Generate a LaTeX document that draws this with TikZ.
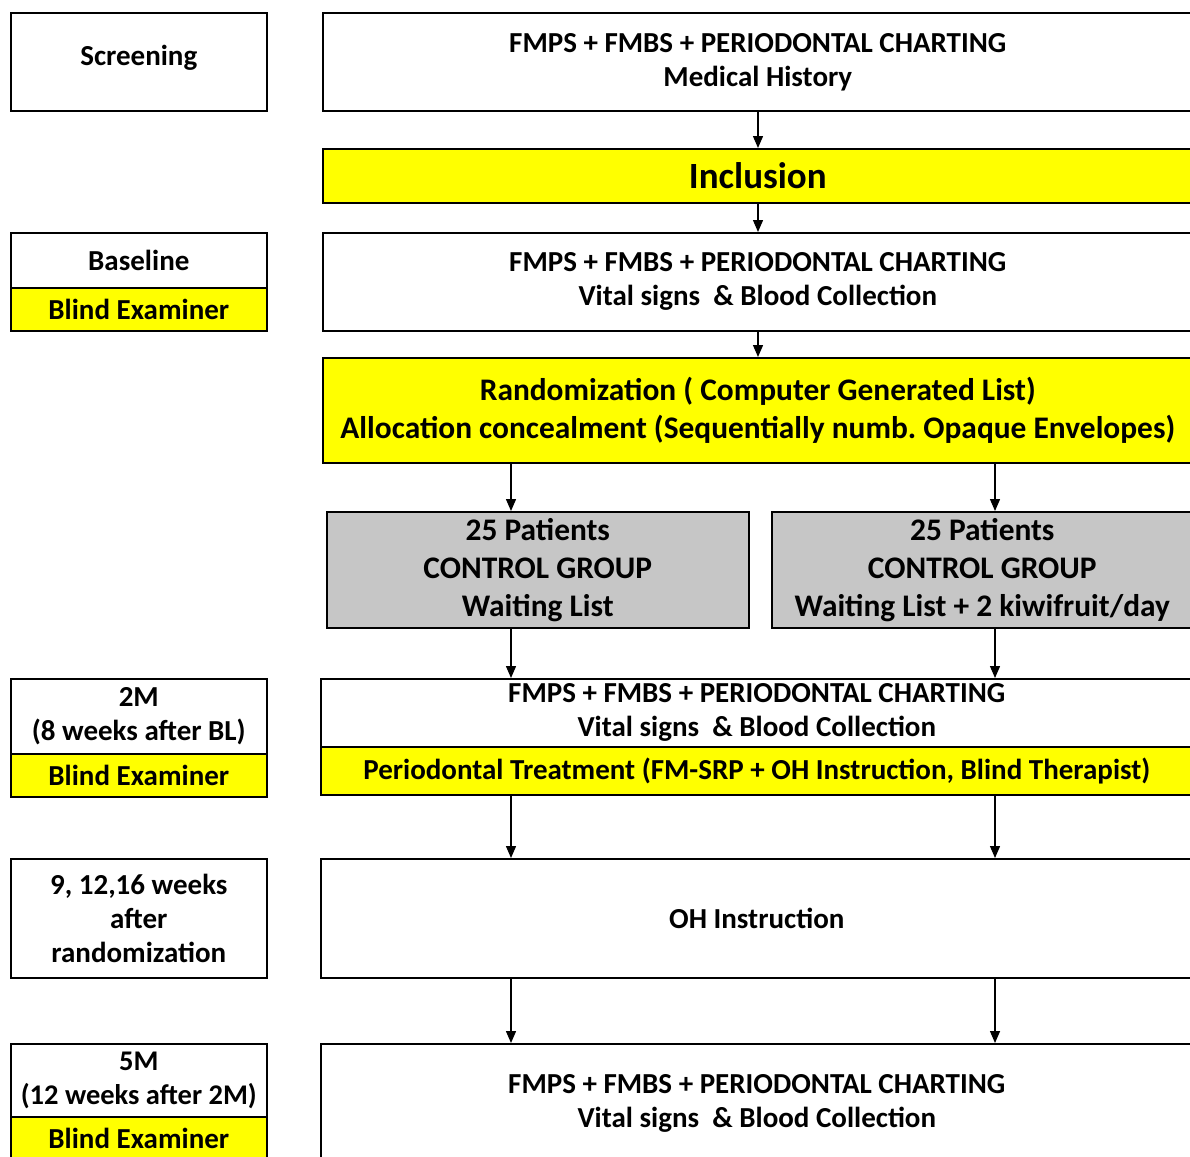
\documentclass[tikz,border=0pt]{standalone}
\usepackage{fontspec}
\setmainfont{Carlito}
\usetikzlibrary{arrows.meta}
\definecolor{grayfill}{RGB}{198,198,198}
\definecolor{ylw}{RGB}{255,255,0}
\frenchspacing
\begin{document}
\begin{tikzpicture}[x=1pt,y=-1pt,
  box/.style={draw=black, line width=1.6pt, anchor=north west, inner sep=0pt, align=center,
    font=\fontsize{29}{34}\selectfont\bfseries},
  ybox/.style={box, fill=ylw},
  gbox/.style={box, fill=grayfill, font=\fontsize{31.4}{38}\selectfont\bfseries},
  arr/.style={line width=1.4pt, -{Triangle[width=10pt,length=12pt]}}]
\useasboundingbox[fill=white] (0,0) rectangle (1190,1156);

% left column
\node[box, minimum width=256pt, minimum height=98pt] (scr) at (10,12) {\raisebox{12pt}{Screening}};
\node[box, minimum width=256pt, minimum height=55pt] (bl) at (10,232) {Baseline};
\node[ybox, minimum width=256pt, minimum height=43pt] (blx) at (10,287) {Blind Examiner};
\node[box, minimum width=256pt, minimum height=75pt] (m2) at (10,678) {2M\\(8 weeks after BL)};
\node[ybox, minimum width=256pt, minimum height=43pt] (m2x) at (10,753) {Blind Examiner};
\node[box, minimum width=256pt, minimum height=119pt] (wk) at (10,858) {9, 12,16 weeks\\after\\randomization};
\node[box, minimum width=256pt, minimum height=73pt, font=\fontsize{28.5}{34}\selectfont\bfseries] (m5) at (10,1043) {5M\\(12 weeks after 2M)};
\node[ybox, minimum width=256pt, minimum height=44pt] (m5x) at (10,1116) {Blind Examiner};

% right column
\node[box, minimum width=870pt, minimum height=98pt] (fm1) at (322,12) {FMPS + FMBS + PERIODONTAL CHARTING\\Medical History};
\node[ybox, minimum width=870pt, minimum height=54pt, font=\fontsize{37}{40}\selectfont\bfseries] (inc) at (322,148) {Inclusion};
\node[box, minimum width=870pt, minimum height=98pt] (fm2) at (322,232) {FMPS + FMBS + PERIODONTAL CHARTING\\Vital signs\ \ \& Blood Collection};
\node[ybox, minimum width=870pt, minimum height=105pt, font=\fontsize{31.4}{38}\selectfont\bfseries] (rand) at (322,357) {Randomization ( Computer Generated List)\\Allocation concealment (Sequentially numb. Opaque Envelopes)};
\node[gbox, minimum width=422pt, minimum height=116pt] (g1) at (326,511) {25 Patients\\CONTROL GROUP\\Waiting List};
\node[gbox, minimum width=421pt, minimum height=116pt] (g2) at (771,511) {25 Patients\\CONTROL GROUP\\Waiting List + 2 kiwifruit/day};
\node[box, minimum width=872pt, minimum height=68pt] (fm3) at (320,678) {FMPS + FMBS + PERIODONTAL CHARTING\\Vital signs\ \ \& Blood Collection};
\node[ybox, minimum width=872pt, minimum height=48pt] (pt) at (320,746) {Periodontal Treatment (FM-SRP + OH Instruction, Blind Therapist)};
\node[box, minimum width=872pt, minimum height=119pt] (oh) at (320,858) {OH Instruction};
\node[box, minimum width=872pt, minimum height=120pt] (fm4) at (320,1043) {FMPS + FMBS + PERIODONTAL CHARTING\\Vital signs\ \ \& Blood Collection};

% arrows
\coordinate (C) at (758,0);
\coordinate (L) at (511,0);
\coordinate (R) at (995,0);
\draw[arr] (fm1.south -| C) -- (inc.north -| C);
\draw[arr] (inc.south -| C) -- (fm2.north -| C);
\draw[arr] (fm2.south -| C) -- (rand.north -| C);
\draw[arr] (rand.south -| L) -- (g1.north -| L);
\draw[arr] (rand.south -| R) -- (g2.north -| R);
\draw[arr] (g1.south -| L) -- (fm3.north -| L);
\draw[arr] (g2.south -| R) -- (fm3.north -| R);
\draw[arr] (pt.south -| L) -- (oh.north -| L);
\draw[arr] (pt.south -| R) -- (oh.north -| R);
\draw[arr] (oh.south -| L) -- (fm4.north -| L);
\draw[arr] (oh.south -| R) -- (fm4.north -| R);
\end{tikzpicture}
\end{document}
